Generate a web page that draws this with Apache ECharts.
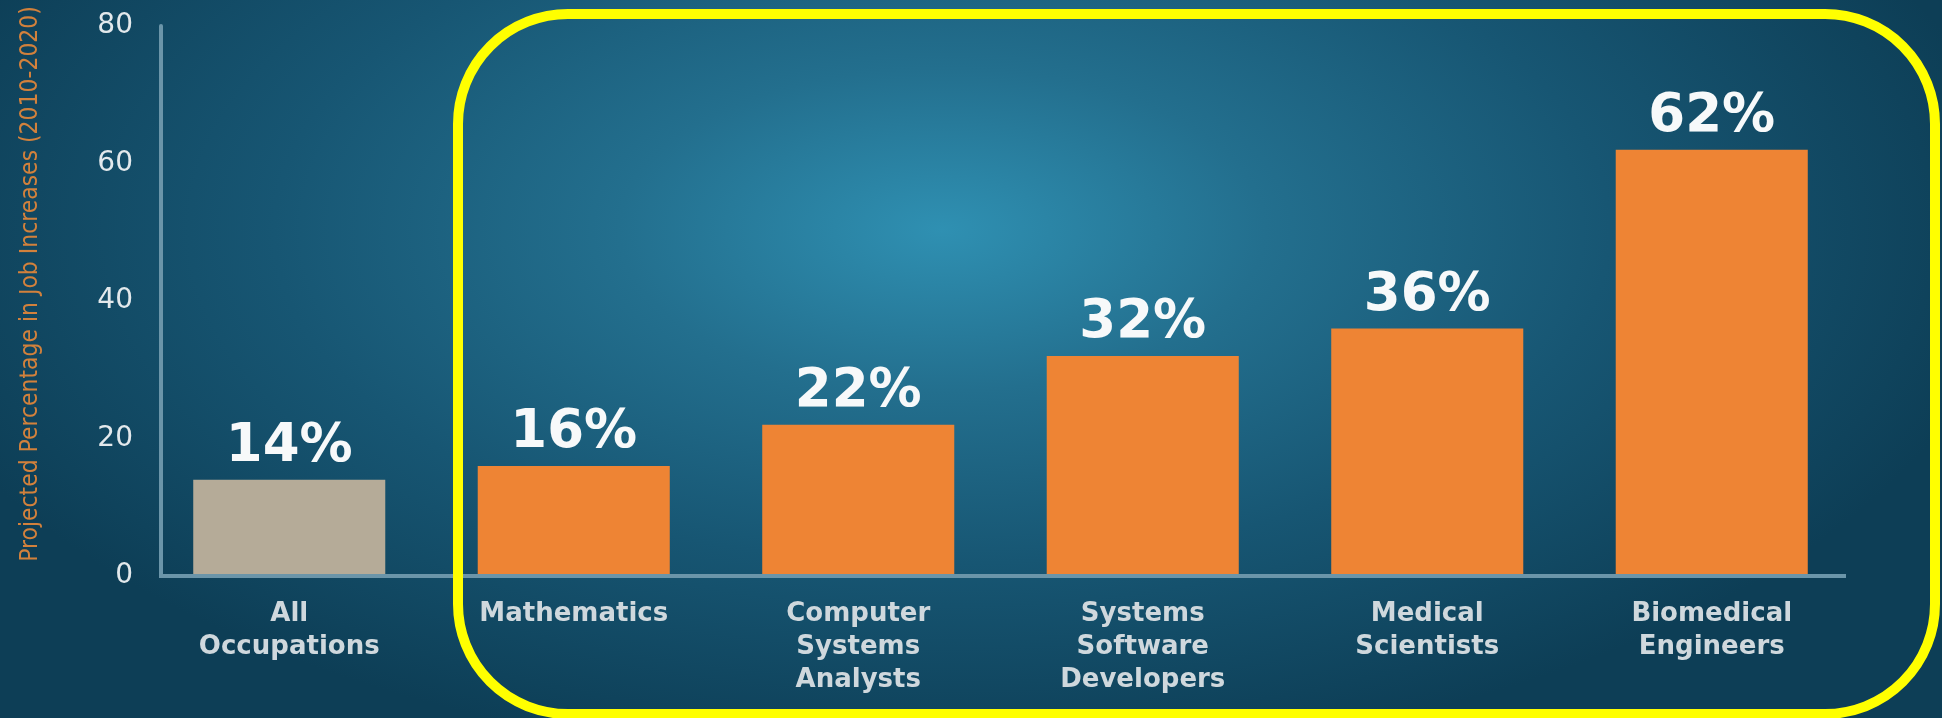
<!DOCTYPE html>
<html>
<head>
<meta charset="utf-8">
<script src="https://cdn.jsdelivr.net/npm/echarts@6/dist/echarts.min.js"></script>
<style>
html,body{margin:0;padding:0;background:#0e4259;}
#chart{width:1942px;height:718px;}
</style>
</head>
<body>
<div id="chart"></div>
<script>
// ---- data ----
var categories = ['All\nOccupations', 'Mathematics', 'Computer\nSystems\nAnalysts', 'Systems\nSoftware\nDevelopers', 'Medical\nScientists', 'Biomedical\nEngineers'];
var values = [14, 16, 22, 32, 36, 62];
var barColors = ['#b5ab98', '#ee8434', '#ee8434', '#ee8434', '#ee8434', '#ee8434'];
var yTicks = [0, 20, 40, 60, 80];
var yTitle = 'Projected Percentage in Job Increases (2010-2020)';

// ---- layout ----
var W = 1942, H = 718;
var gridLeft = 147, gridRight = 88, gridTop = 26, gridBottom = 142;
var yAxisOffset = -14;

// fit the narrow axis title to its length in the reference
var titleFont = "'Liberation Sans Narrow', 'DejaVu Sans Condensed', sans-serif";
var titleLen = 556;
var mctx = document.createElement('canvas').getContext('2d');
mctx.font = '100px ' + titleFont;
var titleSize = Math.min(30, Math.max(20, titleLen / mctx.measureText(yTitle).width * 100));

var chart = echarts.init(document.getElementById('chart'), null, {renderer: 'canvas'});

var option = {
  backgroundColor: '#0e4259',
  animation: false,
  grid: {left: gridLeft, right: gridRight, top: gridTop, bottom: gridBottom, containLabel: false, outerBoundsMode: 'none'},
  xAxis: {
    type: 'category',
    data: categories,
    axisLine: {show: false},
    axisTick: {show: false},
    axisLabel: {
      interval: 0,
      margin: 22,
      color: '#cfd8dd',
      fontFamily: 'DejaVu Sans',
      fontWeight: 'bold',
      fontSize: 26,
      lineHeight: 33
    }
  },
  yAxis: {
    type: 'value',
    min: yTicks[0],
    max: yTicks[yTicks.length - 1],
    interval: 20,
    offset: yAxisOffset,
    splitLine: {show: false},
    axisTick: {show: false},
    axisLine: {show: true, lineStyle: {color: '#6b95a9', width: 4}},
    axisLabel: {
      margin: 28,
      color: '#e3e9ec',
      fontFamily: 'DejaVu Sans',
      fontSize: 28
    },
    name: yTitle,
    nameLocation: 'middle',
    nameGap: 118,
    nameTextStyle: {
      color: '#d2813c',
      fontFamily: titleFont,
      fontSize: titleSize,
      padding: [0, 0, 0, 34]
    }
  },
  series: [{
    type: 'bar',
    data: values.map(function (v, i) { return {value: v, itemStyle: {color: barColors[i]}}; }),
    barCategoryGap: '32.5%',
    label: {
      show: true,
      position: 'top',
      distance: 6,
      formatter: '{c}%',
      color: '#f7f9fa',
      fontFamily: 'DejaVu Sans',
      fontWeight: 'bold',
      fontSize: 53
    }
  }]
};
chart.setOption(option);

// baseline (x axis line) from the y axis to just short of the grid's right edge
var y0 = chart.convertToPixel({yAxisIndex: 0}, 0);
var axisX = gridLeft - yAxisOffset;
var lineEnd = W - gridRight - 8;

chart.setOption({
  graphic: [
    {
      type: 'rect',
      z: -100,
      silent: true,
      scaleX: 2,
      shape: {x: 0, y: 0, width: W / 2, height: H},
      style: {
        fill: {
          type: 'radial', x: 0.485, y: 0.32, r: 0.75,
          colorStops: [
            {offset: 0, color: '#2f90b2'},
            {offset: 0.3, color: '#236f8e'},
            {offset: 0.62, color: '#175673'},
            {offset: 1, color: '#0d3e56'}
          ]
        }
      }
    },
    {
      type: 'line',
      z: 5,
      silent: true,
      shape: {x1: axisX - 2, y1: y0, x2: lineEnd, y2: y0},
      style: {stroke: '#6b95a9', lineWidth: 4}
    },
    {
      type: 'rect',
      z: 100,
      silent: true,
      shape: {x: 458, y: 14, width: 1477, height: 700, r: 110},
      style: {fill: 'none', stroke: '#ffff00', lineWidth: 10}
    }
  ]
});
</script>
</body>
</html>
